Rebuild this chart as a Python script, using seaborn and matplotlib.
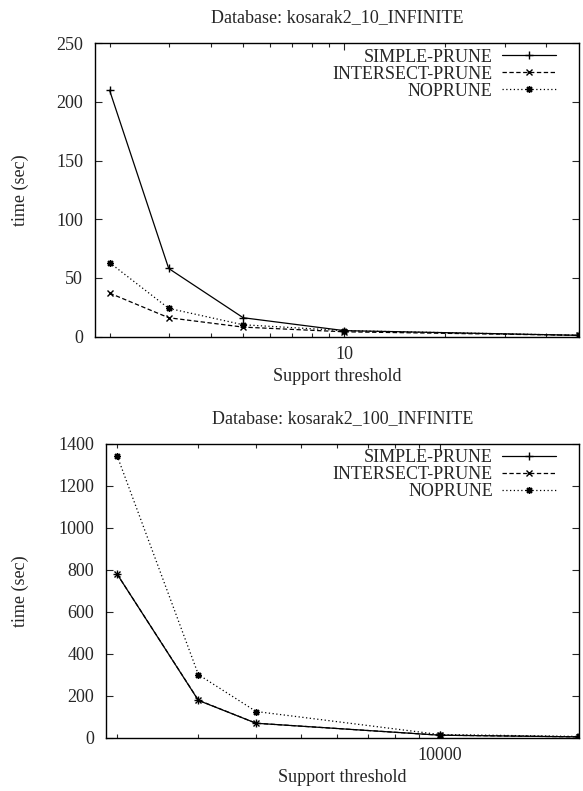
"""kosarak2 pruning time chart"""
import matplotlib
matplotlib.use("Agg")
import matplotlib.pyplot as plt
import seaborn as sns
import pandas as pd
from matplotlib.ticker import FixedLocator, NullFormatter, FixedFormatter

# top chart: kosarak2_10_INFINITE
support_10 = [2, 3, 5, 10, 50]
simple_10 = [210, 58, 16, 5, 1]
intersect_10 = [37, 16, 8, 4, 1]
noprune_10 = [63, 24, 10, 5, 1]

# bottom chart: kosarak2_100_INFINITE
support_100 = [2000, 3000, 4000, 10000, 20000]
simple_100 = [780, 177, 68, 11, 3]
intersect_100 = [780, 178, 68, 11, 3]
noprune_100 = [1345, 300, 124, 14, 5]

series_names = ["SIMPLE-PRUNE", "INTERSECT-PRUNE", "NOPRUNE"]
titles = ["Database: kosarak2_10_INFINITE", "Database: kosarak2_100_INFINITE"]

sns.set_theme(style="ticks")
plt.rcParams["font.family"] = ["Liberation Serif", "DejaVu Serif"]

FS = 13
W, H = 583, 791
styles = {
    "SIMPLE-PRUNE": dict(ls="-", marker="+", ms=6),
    "INTERSECT-PRUNE": dict(ls=(0, (3.5, 2)), marker="x", ms=4.5),
    "NOPRUNE": dict(ls=(0, (1, 2)), marker=(8, 2, 0), ms=5),
}


def draw(ax, xs, ys_list, title, xlim, ylim, yticks, major, minor, ylab_x):
    for name, ys in zip(series_names, ys_list):
        df = pd.DataFrame({"x": xs, "y": ys})
        st = styles[name]
        sns.lineplot(data=df, x="x", y="y", ax=ax, color="black", lw=0.9,
                     linestyle=st["ls"], marker=st["marker"], markersize=st["ms"],
                     markeredgewidth=1.0, markeredgecolor="black", label=name)
    ax.set_xscale("log")
    ax.set_xlim(*xlim)
    ax.set_ylim(*ylim)
    ax.set_yticks(yticks)
    ax.xaxis.set_major_locator(FixedLocator([major]))
    ax.xaxis.set_major_formatter(FixedFormatter([str(major)]))
    ax.xaxis.set_minor_locator(FixedLocator(minor))
    ax.xaxis.set_minor_formatter(NullFormatter())
    ax.tick_params(axis="both", which="major", direction="in", length=5,
                   width=0.8, top=True, right=True, labelsize=FS)
    ax.tick_params(axis="x", which="major", pad=7)
    ax.tick_params(axis="y", which="major", pad=8.5)
    ax.tick_params(axis="x", which="minor", direction="in", length=3,
                   width=0.8, top=True)
    for sp in ax.spines.values():
        sp.set_visible(True)
        sp.set_linewidth(1.0)
        sp.set_color("black")
    ax.set_title(title, fontsize=FS, pad=15)
    ax.set_xlabel("Support threshold", fontsize=FS)
    ax.set_ylabel("time (sec)", fontsize=FS)
    ax.xaxis.set_label_coords(0.5, -0.108)
    ax.yaxis.set_label_coords(ylab_x, 0.5)
    ax.legend(loc="upper right", bbox_to_anchor=(0.967, 1.006), frameon=False,
              markerfirst=False, fontsize=FS, handlelength=3.0,
              handletextpad=0.5, labelspacing=0.0, borderaxespad=0.0,
              borderpad=0.4)


fig = plt.figure(figsize=(W / 100, H / 100), dpi=100)
ax1 = fig.add_axes([95 / W, 1 - 336.5 / H, (579 - 95) / W, (336.5 - 43.3) / H])
ax2 = fig.add_axes([106 / W, 1 - 737.5 / H, (579 - 106) / W, (737.5 - 444) / H])

draw(ax1, support_10, [simple_10, intersect_10, noprune_10], titles[0],
     (1.81, 50), (0, 250), range(0, 251, 50), 10,
     [2, 3, 4, 5, 6, 7, 8, 9, 20, 30, 40], (29.5 - 95) / 484)
draw(ax2, support_100, [simple_100, intersect_100, noprune_100], titles[1],
     (1893, 20000), (0, 1400), range(0, 1401, 200), 10000,
     [2000, 3000, 4000, 5000, 6000, 7000, 8000, 9000], (29.5 - 106) / 473)

fig.savefig("out.png", dpi=100)
